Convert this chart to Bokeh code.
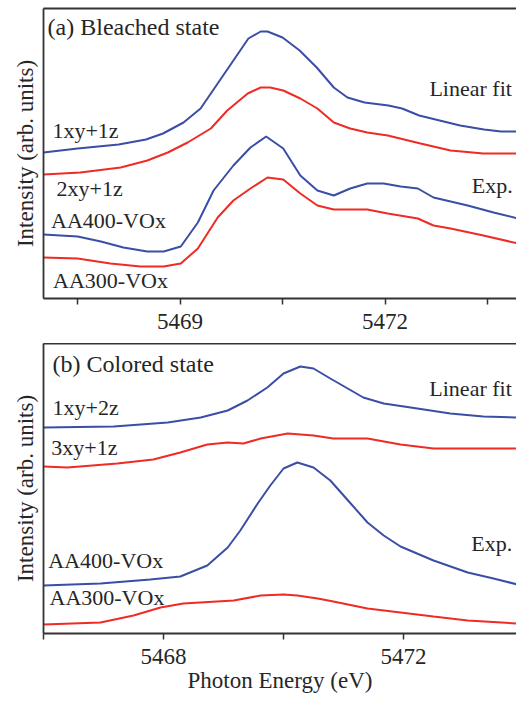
from bokeh.plotting import figure
from bokeh.models import Range1d, FixedTicker, LinearAxis, Label
from bokeh.layouts import column
from bokeh.embed import file_html
from bokeh.resources import INLINE

# ---------------- data (intensity in arb. units) ----------------
# (a) Bleached state
a_fit_blue_x = [5467.0, 5467.5, 5468.1, 5468.5, 5468.75, 5469.05, 5469.3, 5469.55, 5469.78, 5470.0,
                5470.18, 5470.28, 5470.5, 5470.75, 5471.0, 5471.25, 5471.45, 5471.7, 5472.05, 5472.25,
                5472.5, 5472.8, 5473.1, 5473.45, 5473.7, 5473.95]
a_fit_blue_y = [146, 150, 154, 159, 165, 176, 190, 215, 238, 260,
                267, 267, 261, 248, 231, 211, 201, 196, 193, 190,
                183, 178, 173, 169, 167, 167]

a_fit_red_x = [5467.0, 5467.54, 5468.13, 5468.52, 5468.82, 5469.11, 5469.45, 5469.69, 5469.99, 5470.18,
               5470.32, 5470.51, 5470.76, 5471.01, 5471.25, 5471.49, 5471.74, 5472.04, 5472.52, 5472.96,
               5473.44, 5473.95]
a_fit_red_y = [124, 126, 131, 138, 146, 156, 170, 188, 205, 211,
               211, 208, 200, 190, 176, 170, 166, 163, 155, 148,
               145, 145]

a_exp_blue_x = [5467.0, 5467.5, 5467.84, 5468.17, 5468.52, 5468.76, 5469.01, 5469.26, 5469.49, 5469.78,
                5470.03, 5470.26, 5470.51, 5470.76, 5471.01, 5471.25, 5471.49, 5471.74, 5471.98, 5472.23,
                5472.48, 5472.71, 5473.21, 5473.59, 5473.95]
a_exp_blue_y = [64, 62, 57, 51, 47, 47, 52, 76, 108, 133,
                151, 162, 150, 123, 108, 103, 110, 115, 115, 112,
                110, 101, 93, 86, 80]

a_exp_red_x = [5467.0, 5467.5, 5467.98, 5468.42, 5468.76, 5469.01, 5469.26, 5469.55, 5469.78, 5470.03,
               5470.28, 5470.51, 5470.76, 5471.01, 5471.25, 5471.74, 5472.04, 5472.48, 5472.71, 5472.96,
               5473.44, 5473.95]
a_exp_red_y = [41, 40, 35, 32, 32, 35, 50, 81, 98, 110,
               121, 119, 105, 93, 89, 89, 85, 80, 73, 70,
               63, 55]

# (b) Colored state
b_fit_blue_x = [5466.0, 5467.17, 5468.07, 5468.62, 5469.07, 5469.4, 5469.73, 5470.0, 5470.28, 5470.5,
                5470.78, 5471.07, 5471.33, 5471.67, 5472.23, 5472.78, 5473.33, 5473.9]
b_fit_blue_y = [206, 207, 211, 216, 223, 233, 246, 260, 267, 265,
                255, 245, 236, 230, 225, 220, 217, 216]

b_fit_red_x = [5466.0, 5466.4, 5467.23, 5467.83, 5468.28, 5468.73, 5469.07, 5469.33, 5469.62, 5470.07,
               5470.5, 5470.83, 5471.4, 5471.95, 5472.5, 5473.9]
b_fit_red_y = [167, 166, 170, 174, 181, 189, 191, 190, 195, 200,
               198, 195, 195, 189, 185, 185]

b_exp_blue_x = [5466.0, 5466.95, 5467.78, 5468.28, 5468.73, 5469.07, 5469.28, 5469.57, 5469.78, 5470.0,
                5470.23, 5470.5, 5470.78, 5471.12, 5471.4, 5471.67, 5471.95, 5472.5, 5473.07, 5473.5,
                5473.9]
b_exp_blue_y = [48, 50, 54, 57, 68, 86, 103, 130, 148, 165,
                171, 166, 153, 130, 111, 98, 87, 73, 61, 55,
                49]

b_exp_red_x = [5466.0, 5466.95, 5467.5, 5467.95, 5468.33, 5469.17, 5469.62, 5470.0, 5470.23, 5470.57,
               5470.83, 5471.4, 5471.95, 5472.5, 5473.07, 5473.9]
b_exp_red_y = [9, 11, 18, 26, 30, 33, 38, 39, 38, 35,
               32, 25, 21, 17, 13, 10]

a_major_ticks = [5469, 5472]
a_minor_ticks = [5467.5, 5470.5, 5473.5]
b_major_ticks = [5468, 5472]
b_minor_ticks = [5466, 5470]

BLUE = "#3a4ea6"
RED = "#ee2b25"
AXC = "#333333"
TXT = "#262626"
FONT = "Liberation Serif"


def panel(xr, major, minor, top_border, bottom_border, xlabel=None):
    p = figure(frame_width=473, frame_height=290, x_range=xr, y_range=Range1d(0, 290),
               output_backend="svg", toolbar_location=None,
               min_border_left=43, min_border_right=0, min_border_top=top_border,
               min_border_bottom=bottom_border, outline_line_color=None)
    p.grid.visible = False
    xa = p.xaxis[0]
    xa.ticker = FixedTicker(ticks=major, minor_ticks=minor)
    xa.major_tick_out = 6
    xa.major_tick_in = 0
    xa.minor_tick_out = 6
    xa.minor_tick_in = 0
    xa.major_tick_line_width = 1.5
    xa.minor_tick_line_width = 1.5
    xa.major_tick_line_color = AXC
    xa.minor_tick_line_color = AXC
    xa.axis_line_color = AXC
    xa.axis_line_width = 1.8
    xa.major_label_text_font = FONT
    xa.major_label_text_font_size = "23px"
    xa.major_label_text_color = TXT
    xa.major_label_standoff = 9
    if xlabel:
        xa.axis_label = xlabel
        xa.axis_label_text_font = FONT
        xa.axis_label_text_font_size = "23px"
        xa.axis_label_text_font_style = "normal"
        xa.axis_label_text_color = TXT
        xa.axis_label_standoff = 1
    ya = p.yaxis[0]
    ya.ticker = FixedTicker(ticks=[])
    ya.major_tick_out = 0
    ya.major_tick_in = 0
    ya.minor_tick_out = 0
    ya.minor_tick_in = 0
    ya.axis_line_color = AXC
    ya.axis_line_width = 1.8
    ya.axis_label = "Intensity (arb. units)"
    ya.axis_label_text_font = FONT
    ya.axis_label_text_font_size = "23px"
    ya.axis_label_text_font_style = "normal"
    ya.axis_label_text_color = TXT
    ya.axis_label_standoff = 6
    top = LinearAxis(ticker=FixedTicker(ticks=[]), major_tick_out=0, major_tick_in=0,
                     minor_tick_out=0, minor_tick_in=0, axis_line_color=AXC, axis_line_width=1.8)
    p.add_layout(top, "above")
    return p


def label(p, x, y, text, size="22px"):
    p.add_layout(Label(x=x, y=y, text=text, text_font=FONT, text_font_size=size,
                       text_color=TXT, text_align="left", text_baseline="middle"))


# ---------------- panel (a) ----------------
pa = panel(Range1d(5467.0, 5473.925), a_major_ticks, a_minor_ticks, 8, 45)
pa.line(a_fit_blue_x, a_fit_blue_y, line_color=BLUE, line_width=2)
pa.line(a_fit_red_x, a_fit_red_y, line_color=RED, line_width=2)
pa.line(a_exp_blue_x, a_exp_blue_y, line_color=BLUE, line_width=2)
pa.line(a_exp_red_x, a_exp_red_y, line_color=RED, line_width=2)
label(pa, 5467.06, 272, "(a) Bleached state", "24px")
label(pa, 5467.13, 168, "1xy+1z")
label(pa, 5467.19, 110, "2xy+1z")
label(pa, 5467.11, 78, "AA400-VOx")
label(pa, 5467.14, 18, "AA300-VOx")
label(pa, 5472.65, 210, "Linear fit")
label(pa, 5473.27, 113, "Exp.")

# ---------------- panel (b) ----------------
pb = panel(Range1d(5466.0, 5473.883), b_major_ticks, b_minor_ticks, 0, 69, "Photon Energy (eV)")
pb.line(b_fit_blue_x, b_fit_blue_y, line_color=BLUE, line_width=2)
pb.line(b_fit_red_x, b_fit_red_y, line_color=RED, line_width=2)
pb.line(b_exp_blue_x, b_exp_blue_y, line_color=BLUE, line_width=2)
pb.line(b_exp_red_x, b_exp_red_y, line_color=RED, line_width=2)
label(pb, 5466.15, 270, "(b) Colored state", "24px")
label(pb, 5466.15, 226, "1xy+2z")
label(pb, 5466.13, 186, "3xy+1z")
label(pb, 5466.08, 73, "AA400-VOx")
label(pb, 5466.1, 36, "AA300-VOx")
label(pb, 5472.43, 245, "Linear fit")
label(pb, 5473.13, 90, "Exp.")

layout = column(pa, pb, spacing=0)
open("out.html", "w").write(file_html(layout, INLINE))
